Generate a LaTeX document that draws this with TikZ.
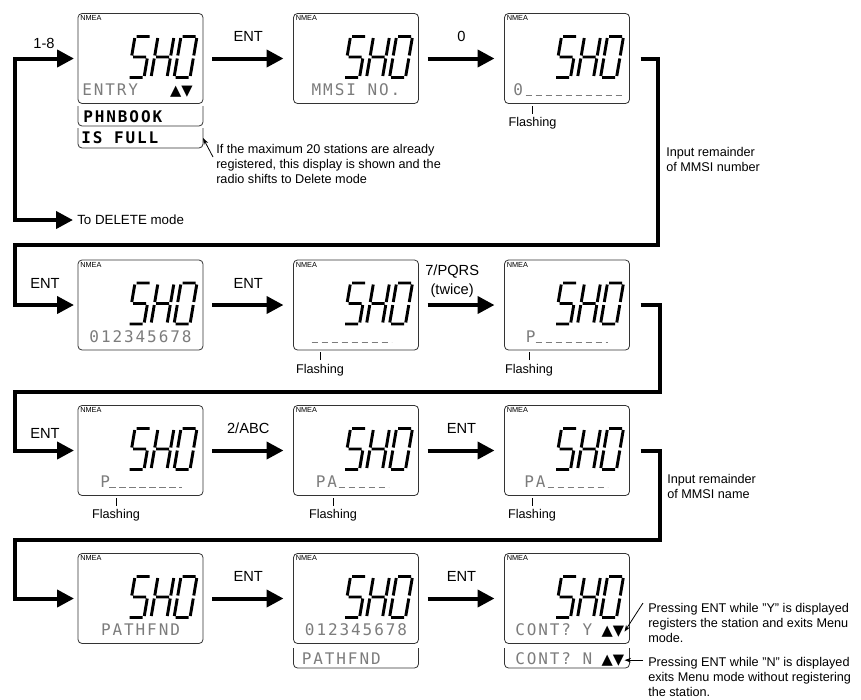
\documentclass[tikz,border=0pt]{standalone}
\usepackage{fontspec}
\setmainfont{Liberation Sans}
\newfontfamily\lcdfont[LetterSpace=12]{DejaVu Sans Mono}
\newfontfamily\updnfont{DejaVu Sans}
\usetikzlibrary{arrows.meta}
\definecolor{lcdedge}{HTML}{333333}
\definecolor{lcdgray}{HTML}{7C7C7C}

% seven-segment "SHO" in the top right of display #1 (units are px)
\newcommand{\shoface}[1]{%
  \begin{scope}[shift={(#1.north east)},shift={(-68,23)},xslant=0.17,seg]
    \draw (1.5,0)--(14.5,0) (0,1.5)--(0,19) (1.5,20.5)--(14.5,20.5) (16,22)--(16,39.5) (1.5,41)--(14.5,41);
    \draw[shift={(23,0)}] (0,1.5)--(0,19) (0,22)--(0,39.5) (1.5,20.5)--(14.5,20.5) (16,1.5)--(16,19) (16,22)--(16,39.5);
    \draw[shift={(46,0)}] (1.5,0)--(14.5,0) (16,1.5)--(16,19) (16,22)--(16,39.5) (1.5,41)--(14.5,41) (0,22)--(0,39.5) (0,1.5)--(0,19);
  \end{scope}}

\begin{document}
\begin{tikzpicture}[x=0.75pt,y=-0.75pt,
    lcd/.style={draw=lcdedge,line width=0.6pt,rounded corners=3pt,
      minimum width=93.75pt,minimum height=67.5pt,inner sep=0pt,outer sep=0pt},
    ubox/.style={minimum width=93.75pt,minimum height=15pt,inner sep=0pt,outer sep=0pt},
    uframe/.style={draw=lcdedge,line width=0.6pt,rounded corners=3pt},
    seg/.style={line width=2.2pt},
    nmea/.style={font=\fontsize{5.5}{6}\selectfont,inner sep=0pt,anchor=north west},
    lcdtxt/.style={font=\lcdfont\fontsize{12}{13}\selectfont,text=lcdgray,inner sep=0pt},
    lcdbold/.style={font=\lcdfont\bfseries\fontsize{12}{13}\selectfont,inner sep=0pt,anchor=base west},
    updn/.style={font=\updnfont\fontsize{11}{12}\selectfont,inner sep=0pt,anchor=base east},
    blank/.style={draw=lcdgray,line width=0.7pt,dash pattern=on 5pt off 2.5pt},
    flow/.style={line width=3pt,-{Triangle[length=12.75pt,width=12.75pt]},
      shorten <=6.75pt,shorten >=7.5pt},
    lbl/.style={font=\fontsize{11}{14}\selectfont,inner sep=0pt,align=center},
    note/.style={font=\fontsize{9.5}{11.25}\selectfont,inner sep=0pt,align=left},
    blink/.style={note,anchor=north},
    tickline/.style={line width=0.6pt},
    ann/.style={line width=0.6pt,-{Stealth[length=5pt,width=3.5pt]}}]
  \useasboundingbox (0,0) rectangle (861,700);

  % the twelve displays, row by row
  \foreach \r/\y in {1/58.5,2/305,3/450.5,4/598.5}
    \foreach \c/\x in {1/140.5,2/356,3/567}
      \node[lcd] (d\r\c) at (\x,\y) {};
  \foreach \d in {d11,d12,d13,d21,d22,d23,d31,d32,d33,d41,d42,d43} {
    \node[nmea] (\d-nmea) at ([shift={(2,2)}]\d.north west) {NMEA};
    \shoface{\d}
  }

  % extra lines below some displays
  \node[ubox] (phn) at (140.5,116) {};
  \node[ubox] (full) at (140.5,138) {};
  \node[ubox] (pf) at (356,658) {};
  \node[ubox] (cn) at (567,658) {};
  \foreach \b in {phn,full,pf,cn}
    \draw[uframe] (\b.north west) |- (\b.south east) -- (\b.north east);

  % bottom lines: row 1
  \node[lcdtxt,anchor=base west] (t11) at ([shift={(4,-8)}]d11.south west) {ENTRY};
  \node[updn] (u11) at ([shift={(115,-8)}]d11.south west) {▲▼};
  \node[lcdbold] (t11b) at ([shift={(5,-4)}]phn.south west) {PHNBOOK};
  \node[lcdbold] (t11c) at ([shift={(3,-5)}]full.south west) {IS FULL};
  \node[lcdtxt,anchor=base] (t12) at ([shift={(62.5,-8)}]d12.south west) {MMSI NO.};
  \node[lcdtxt,anchor=base west] (t13) at ([shift={(8.5,-8)}]d13.south west) {0};
  \draw[blank] ([shift={(21,-8)}]d13.south west) -- ([shift={(118,-8)}]d13.south west);

  % row 2
  \node[lcdtxt,anchor=base] (t21) at ([shift={(62.5,-8)}]d21.south west) {012345678};
  \draw[blank] ([shift={(18,-8)}]d22.south west) -- ([shift={(98,-8)}]d22.south west);
  \node[lcdtxt,anchor=base west] (t23) at ([shift={(21,-8)}]d23.south west) {P};
  \draw[blank] ([shift={(31,-8)}]d23.south west) -- ([shift={(103,-8)}]d23.south west);

  % row 3
  \node[lcdtxt,anchor=base west] (t31) at ([shift={(22,-8)}]d31.south west) {P};
  \draw[blank] ([shift={(31,-8)}]d31.south west) -- ([shift={(104,-8)}]d31.south west);
  \node[lcdtxt,anchor=base west] (t32) at ([shift={(22,-8)}]d32.south west) {PA};
  \draw[blank] ([shift={(45,-8)}]d32.south west) -- ([shift={(95,-8)}]d32.south west);
  \node[lcdtxt,anchor=base west] (t33) at ([shift={(19.5,-8)}]d33.south west) {PA};
  \draw[blank] ([shift={(43,-8)}]d33.south west) -- ([shift={(103,-8)}]d33.south west);

  % row 4
  \node[lcdtxt,anchor=base] (t41) at ([shift={(62.5,-8)}]d41.south west) {PATHFND};
  \node[lcdtxt,anchor=base] (t42) at ([shift={(62.5,-8)}]d42.south west) {012345678};
  \node[lcdtxt,anchor=base west] (t42b) at ([shift={(8,-4)}]pf.south west) {PATHFND};
  \node[lcdtxt,anchor=base west] (t43) at ([shift={(10.5,-8)}]d43.south west) {CONT? Y};
  \node[updn] (u43) at ([shift={(120,-8)}]d43.south west) {▲▼};
  \node[lcdtxt,anchor=base west] (t43b) at ([shift={(10.5,-4)}]cn.south west) {CONT? N};
  \node[updn] (n43) at ([shift={(120,-4)}]cn.south west) {▲▼};

  % flashing marks
  \foreach \d/\dx in {d13/28,d22/26.5,d23/24.5,d31/38,d32/39.5,d33/27.5} {
    \node[blink] (f-\d) at ([shift={(\dx,14)}]\d.south west) {Flashing};
    \draw[tickline] ([yshift=3pt]f-\d.north) -- ++(0,-8);
  }

  % key presses inside the rows
  \draw[flow] (d11.east) -- node[lbl,above=11pt] (k12) {ENT} (d12.west);
  \draw[flow] (d12.east) -- node[lbl,above=11pt] (k13) {0} (d13.west);
  \draw[flow] (d21.east) -- node[lbl,above=11pt] (k22) {ENT} (d22.west);
  \draw[flow] (d22.east) -- node[lbl,above=4pt,xshift=-7pt] (k23) {7/PQRS\\(twice)} (d23.west);
  \draw[flow] (d31.east) -- node[lbl,above=11pt] (k32) {2/ABC} (d32.west);
  \draw[flow] (d32.east) -- node[lbl,above=11pt] (k33) {ENT} (d33.west);
  \draw[flow] (d41.east) -- node[lbl,above=11pt] (k42) {ENT} (d42.west);
  \draw[flow] (d42.east) -- node[lbl,above=11pt] (k43) {ENT} (d43.west);

  % entry loop on the left
  \coordinate (lx) at (15,0);
  \node[lbl,anchor=west,font=\fontsize{10}{12}\selectfont] (del) at (77,220) {To DELETE mode};
  \draw[flow,{Triangle[length=12.75pt,width=12.75pt]}-{Triangle[length=12.75pt,width=12.75pt]},
    shorten <=3pt,shorten >=3pt] (d11.west) -- (lx |- d11.west) |- (del.west);
  \node[lbl] (k11) at (44,43) {1-8};

  % returns from the end of one row to the start of the next
  \coordinate (r1) at (658,245);
  \coordinate (r2) at (660,392);
  \coordinate (r3) at (660,540);
  \draw[flow,shorten <=8.25pt,shorten >=3pt] (d13.east) -- (d13.east -| r1) |- (lx |- r1) |- (d21.west);
  \draw[flow,shorten <=8.25pt,shorten >=3pt] (d23.east) -- (d23.east -| r2) |- (lx |- r2) |- (d31.west);
  \draw[flow,shorten <=8.25pt,shorten >=3pt] (d33.east) -- (d33.east -| r3) |- (lx |- r3) |- (d41.west);
  \node[lbl] (k21) at (45,283) {ENT};
  \node[lbl] (k31) at (45,433) {ENT};

  % notes
  \node[note,anchor=west] (n1) at (666,159.5) {Input remainder\\of MMSI number};
  \node[note,anchor=west] (n3) at (667,486) {Input remainder\\of MMSI name};
  \node[note,anchor=west] (nfull) at (216,164) {If the maximum 20 stations are already\\registered, this display is shown and the\\radio shifts to Delete mode};
  \node[note,anchor=west] (ny) at (648,622.5) {Pressing ENT while "Y" is displayed\\registers the station and exits Menu\\mode.};
  \node[note,anchor=west] (nn) at (648,677) {Pressing ENT while "N" is displayed\\exits Menu mode without registering\\the station.};
  \coordinate (fa) at (213,157);
  \coordinate (ya) at (643,603);
  \coordinate (na) at (643,0);
  \draw[ann] (fa) -- (full.east);
  \draw[ann] (ya) -- (u43.east);
  \draw[ann] (na |- n43.east) -- (n43.east);
\end{tikzpicture}
\end{document}
